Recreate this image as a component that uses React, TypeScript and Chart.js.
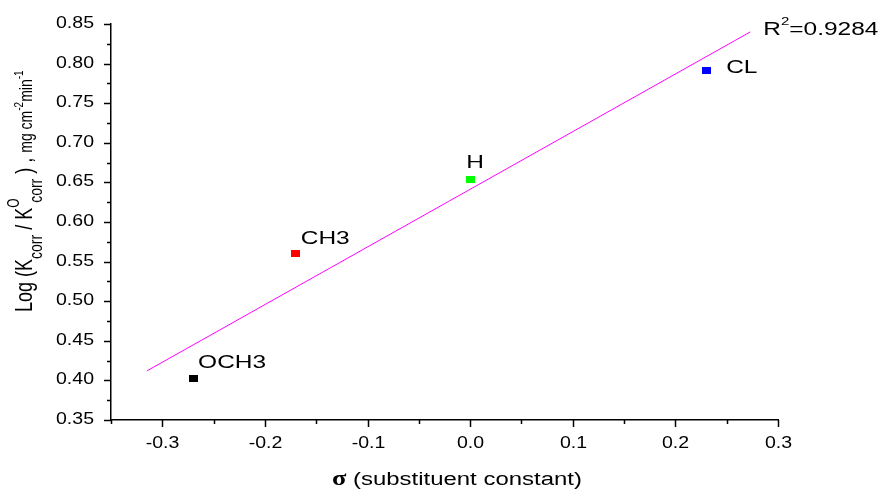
import React, { useEffect, useRef } from 'react';
import { Chart, registerables } from 'chart.js';

Chart.register(...registerables);

// ---- data ----
const categories = ['OCH3', 'CH3', 'H', 'CL'];
const sigmaValues = [-0.27, -0.17, 0.0, 0.23];
const logRatioValues = [0.403, 0.56, 0.654, 0.791];
const pointColors = ['#000000', '#ff0000', '#00ff00', '#0000ff'];
const fitSigma = [-0.315, 0.273];
const fitLog = [0.412, 0.84];
const r2Parts = ['R', '2', '=0.9284'];
const xTickValues = [-0.3, -0.2, -0.1, 0.0, 0.1, 0.2, 0.3];
const xTickLabels = ['-0.3', '-0.2', '-0.1', '0.0', '0.1', '0.2', '0.3'];
const yTickValues = [0.35, 0.4, 0.45, 0.5, 0.55, 0.6, 0.65, 0.7, 0.75, 0.8, 0.85];
const yTickLabels = ['0.35', '0.40', '0.45', '0.50', '0.55', '0.60', '0.65', '0.70', '0.75', '0.80', '0.85'];
const xTitleParts = ['σ', '(substituent constant)'];
const yTitleRuns = [
  { t: 'Log (K', kind: 'main' },
  { t: 'corr', kind: 'sub' },
  { t: ' / K', kind: 'main' },
  { t: 'O', kind: 'supStack' },
  { t: 'corr', kind: 'sub' },
  { t: ' ) , ', kind: 'main' },
  { t: 'mg cm', kind: 'small' },
  { t: '-2', kind: 'sup' },
  { t: 'min', kind: 'small' },
  { t: '-1', kind: 'sup' },
];

// ---- style ----
const SANS = '"Liberation Sans", Arial, sans-serif';
const labelOffsets = [
  [5, -10],
  [5, -10],
  [-4, -11],
  [20, 2],
];
const runStyle: Record<string, { s: number; dy: number; adv?: number }> = {
  main: { s: 18, dy: 0 },
  sub: { s: 14, dy: 8 },
  supStack: { s: 12, dy: -10, adv: 5 },
  small: { s: 14, dy: 0 },
  sup: { s: 10, dy: -7 },
};

function drawText(
  ctx: CanvasRenderingContext2D,
  text: string,
  x: number,
  y: number,
  font: string,
  sx: number,
  align: CanvasTextAlign = 'left',
  baseline: CanvasTextBaseline = 'alphabetic'
) {
  ctx.save();
  ctx.translate(x, y);
  ctx.scale(sx, 1);
  ctx.font = font;
  ctx.textAlign = align;
  ctx.textBaseline = baseline;
  ctx.fillStyle = '#000';
  ctx.fillText(text, 0, 0);
  const w = ctx.measureText(text).width * sx;
  ctx.restore();
  return w;
}

const decorPlugin = {
  id: 'decor',
  afterDraw(chart: any) {
    const ctx: CanvasRenderingContext2D = chart.ctx;
    const xs = chart.scales.x;
    const ys = chart.scales.y;
    const area = chart.chartArea;
    ctx.save();
    ctx.strokeStyle = '#000';
    ctx.lineWidth = 1.5;
    // y ticks
    yTickValues.forEach((v, i) => {
      const py = Math.round(ys.getPixelForValue(v)) + 0.5;
      ctx.beginPath();
      ctx.moveTo(area.left - 7, py);
      ctx.lineTo(area.left, py);
      ctx.stroke();
      if (i < yTickValues.length - 1) {
        const pm = Math.round(ys.getPixelForValue((v + yTickValues[i + 1]) / 2)) + 0.5;
        ctx.beginPath();
        ctx.moveTo(area.left - 4, pm);
        ctx.lineTo(area.left, pm);
        ctx.stroke();
      }
      drawText(ctx, yTickLabels[i], 94, py - 1, '16px ' + SANS, 1.22, 'right', 'middle');
    });
    // x ticks
    const step = xTickValues[1] - xTickValues[0];
    xTickValues.forEach((v, i) => {
      const px = Math.round(xs.getPixelForValue(v)) + 0.5;
      ctx.beginPath();
      ctx.moveTo(px, area.bottom);
      ctx.lineTo(px, area.bottom + 7);
      ctx.stroke();
      const mv = v - step / 2;
      if (mv >= xs.min - 1e-9) {
        const pm = Math.round(xs.getPixelForValue(mv)) + 0.5;
        ctx.beginPath();
        ctx.moveTo(pm, area.bottom);
        ctx.lineTo(pm, area.bottom + 4);
        ctx.stroke();
      }
      drawText(ctx, xTickLabels[i], px, 448, '16px ' + SANS, 1.22, 'center', 'alphabetic');
    });
    ctx.restore();

    // point labels
    const meta = chart.getDatasetMeta(0);
    meta.data.forEach((pt: any, i: number) => {
      drawText(ctx, categories[i], pt.x + labelOffsets[i][0], pt.y + labelOffsets[i][1], '18px ' + SANS, 1.36);
    });

    // R^2 label at end of fit line
    const lm = chart.getDatasetMeta(1);
    const end = lm.data[lm.data.length - 1];
    let rx = end.x + 13;
    const ry = end.y + 3;
    rx += drawText(ctx, r2Parts[0], rx, ry, '18px ' + SANS, 1.36);
    rx += drawText(ctx, r2Parts[1], rx, ry - 10, '11px ' + SANS, 1.36);
    drawText(ctx, r2Parts[2], rx, ry, '18px ' + SANS, 1.36);

    // x title
    drawText(ctx, xTitleParts[0], 332, 485, 'bold 22px "Liberation Serif", serif', 1.2);
    drawText(ctx, xTitleParts[1], 353, 485, '18px ' + SANS, 1.33);

    // y title
    ctx.save();
    ctx.translate(32, 312);
    ctx.scale(1.3, 1);
    ctx.rotate(-Math.PI / 2);
    ctx.fillStyle = '#000';
    ctx.textAlign = 'left';
    ctx.textBaseline = 'alphabetic';
    let tx = 0;
    yTitleRuns.forEach((r) => {
      const st = runStyle[r.kind];
      ctx.font = st.s + 'px ' + SANS;
      ctx.fillText(r.t, tx, st.dy);
      tx += st.adv !== undefined ? st.adv : ctx.measureText(r.t).width;
    });
    ctx.restore();
  },
};

function makeMarker(color: string) {
  const c = document.createElement('canvas');
  c.width = 9;
  c.height = 7;
  const g = c.getContext('2d')!;
  g.fillStyle = color;
  g.fillRect(0, 0, 9, 7);
  return c;
}

export default function App() {
  const ref = useRef<HTMLCanvasElement>(null);
  useEffect(() => {
    if (!ref.current) return;
    const markers = pointColors.map(makeMarker);
    const chart = new Chart(ref.current, {
      type: 'scatter',
      data: {
        datasets: [
          {
            type: 'scatter',
            data: sigmaValues.map((x, i) => ({ x, y: logRatioValues[i] })),
            pointStyle: markers as any,
            backgroundColor: pointColors,
            borderColor: pointColors,
            pointRadius: 5,
            order: 0,
          },
          {
            type: 'line',
            data: fitSigma.map((x, i) => ({ x, y: fitLog[i] })),
            borderColor: '#ff00ff',
            borderWidth: 1,
            pointRadius: 0,
            showLine: true,
            fill: false,
            order: 1,
          } as any,
        ],
      },
      options: {
        responsive: false,
        animation: false,
        devicePixelRatio: 1,
        layout: { padding: { top: 24, right: 104, left: 0, bottom: 0 } },
        plugins: { legend: { display: false }, tooltip: { enabled: false }, title: { display: false } },
        scales: {
          x: {
            type: 'linear',
            min: -0.35,
            max: 0.3,
            grid: { display: false },
            border: { display: true, color: '#000', width: 1.5 },
            ticks: { display: false },
            afterFit: (s: any) => {
              s.height = 72;
            },
          },
          y: {
            type: 'linear',
            min: 0.35,
            max: 0.85,
            grid: { display: false },
            border: { display: true, color: '#000', width: 1.5 },
            ticks: { display: false },
            afterFit: (s: any) => {
              s.width = 111;
            },
          },
        },
      },
      plugins: [decorPlugin],
    });
    return () => chart.destroy();
  }, []);
  return (
    <div style={{ position: 'absolute', left: 0, top: 0, width: 882, height: 492, background: '#fff' }}>
      <canvas ref={ref} width={882} height={492} style={{ display: 'block' }} />
    </div>
  );
}
